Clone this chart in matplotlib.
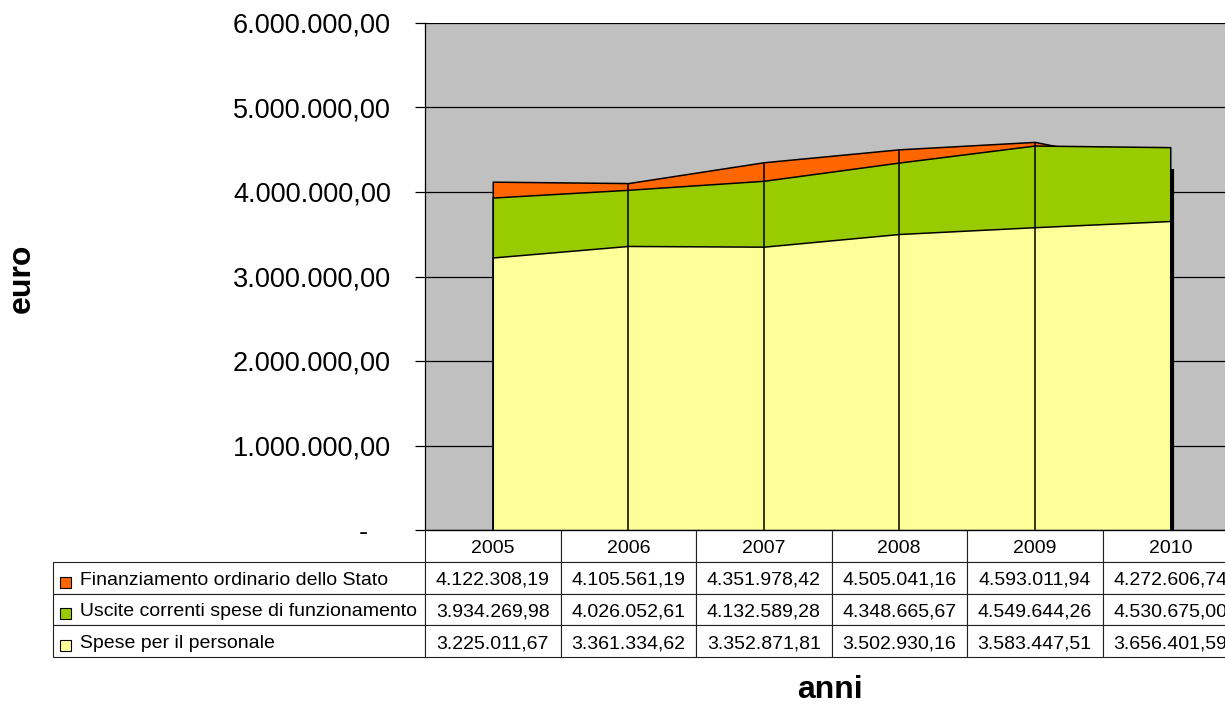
import numpy as np
import matplotlib.pyplot as plt
from matplotlib.patches import Rectangle
from matplotlib.transforms import Affine2D
from matplotlib.ticker import FuncFormatter, MultipleLocator

plt.rcParams['font.family'] = ['Liberation Sans', 'DejaVu Sans']

# Data
anni = ['2005', '2006', '2007', '2008', '2009', '2010']
serie = ['Finanziamento ordinario dello Stato',
         'Uscite correnti spese di funzionamento',
         'Spese per il personale']
finanziamento = [4122308.19, 4105561.19, 4351978.42, 4505041.16, 4593011.94, 4272606.74]
uscite = [3934269.98, 4026052.61, 4132589.28, 4348665.67, 4549644.26, 4530675.00]
personale = [3225011.67, 3361334.62, 3352871.81, 3502930.16, 3583447.51, 3656401.59]
colori = ['#FF6600', '#99CC00', '#FFFF99']


def euro(v):
    s = f"{v:,.2f}"
    return s.replace(',', 'X').replace('.', ',').replace('X', '.')


W, H = 1225, 704
fig = plt.figure(figsize=(W / 100, H / 100), dpi=100)
ax = fig.add_axes([425 / W, 1 - 530 / H, 813 / W, 507 / H])
ax.set_facecolor('#C0C0C0')

x = np.arange(len(anni))
valori = [finanziamento, uscite, personale]

# 3D side face of the back series
ax.vlines(x[-1] + 0.015, 0, finanziamento[-1], colors='black', lw=3, zorder=1.9)

for i, (vals, col) in enumerate(zip(valori, colori)):
    z = 2 + i
    ax.fill_between(x, 0, vals, facecolor=col, edgecolor='black', lw=1.1, zorder=z)
    ax.vlines(x[1:-1], 0, vals[1:-1], colors='black', lw=1.1, zorder=z + 0.5)

ax.set_xlim(-0.5, 5.5)
ax.set_ylim(0, 6000000)
ax.yaxis.set_major_locator(MultipleLocator(1000000))
ax.yaxis.set_major_formatter(FuncFormatter(lambda v, p: '-   ' if v == 0 else euro(v)))
ax.yaxis.grid(True, color='black', lw=0.9)
ax.set_axisbelow(True)
ax.tick_params(axis='y', direction='out', length=7, width=0.9, labelsize=19.5, pad=17.5)
ax.set_xticks([])
for s in ['top', 'right']:
    ax.spines[s].set_visible(False)
ax.spines['left'].set_linewidth(0.9)
ax.spines['bottom'].set_linewidth(0.9)

# Data table
celle = [[''] + anni]
for nome, vals in zip(serie, valori):
    celle.append(['     ' + nome] + [euro(v) for v in vals])

left = (53 - 425) / 813
tab = ax.table(cellText=celle, colWidths=[372] + [135.5] * 6,
               bbox=[left, -127 / 507, 1 - left, 127 / 507], cellLoc='center')
tab.auto_set_font_size(False)
tab.set_fontsize(14)
for (r, c), cell in tab.get_celld().items():
    cell.set_edgecolor('#222222')
    cell.set_linewidth(0.8)
    cell.get_text().set_transform(Affine2D().translate(0, -2.5))
    if r == 0 and c == 0:
        cell.visible_edges = ''
    if c == 0 and r > 0:
        cell._loc = 'left'
        cell.PAD = 0.0
        cell.get_text().set_ha('left')

# legend keys in the table
for i, col in enumerate(colori):
    yc = 582 + i * 31.7
    fig.add_artist(Rectangle((60 / W, 1 - (yc + 5.5) / H), 11 / W, 11 / H,
                             transform=fig.transFigure, facecolor=col,
                             edgecolor='black', lw=0.8))

fig.text(22 / W, 1 - 278 / H, 'euro', rotation=90, fontsize=23, weight='bold',
         ha='center', va='center')
fig.text(830 / W, 1 - 690 / H, 'anni', fontsize=23, weight='bold',
         ha='center', va='center')

fig.savefig('out.png', dpi=100)
